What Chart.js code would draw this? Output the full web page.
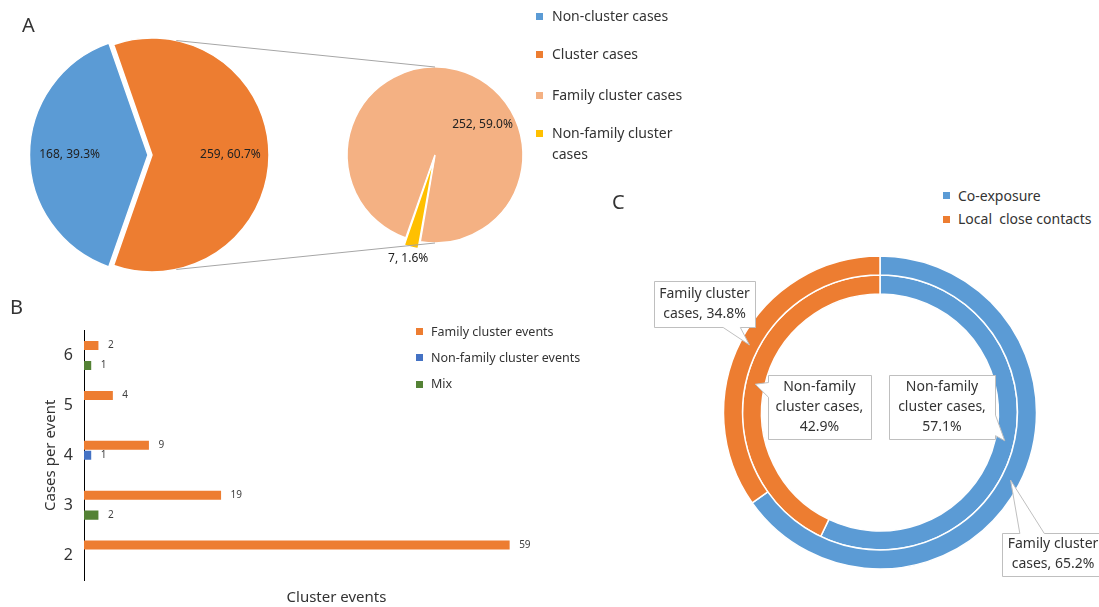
<!DOCTYPE html>
<html>
<head>
<meta charset="utf-8">
<script src="https://cdn.jsdelivr.net/npm/chart.js@4.4.0/dist/chart.umd.min.js"></script>
<style>
  html, body { margin: 0; padding: 0; background: #fff; }
  #wrap { position: relative; width: 1099px; height: 607px; overflow: hidden;
          font-family: "Noto Sans", sans-serif; color: #333; }
  #wrap canvas { position: absolute; }
  .txt { position: absolute; white-space: pre; }
</style>
</head>
<body>
<div id="wrap">
  <canvas id="cA1" width="304" height="310" style="left:0;top:0"></canvas>
  <canvas id="cA2" width="540" height="310" style="left:0;top:0"></canvas>
  <canvas id="cB" width="600" height="297" style="left:0;top:310px"></canvas>
  <canvas id="cC" width="499" height="357" style="left:600px;top:250px"></canvas>
</div>
<script>
// ---------------- data ----------------
const caseGroups = ['Non-cluster cases', 'Cluster cases'];
const caseCounts = [168, 259];
const clusterGroups = ['Family cluster cases', 'Non-family cluster cases'];
const clusterCounts = [252, 7];

const casesPerEvent = ['6', '5', '4', '3', '2'];
const eventSeries = ['Family cluster events', 'Non-family cluster events', 'Mix'];
const familyEvents = [2, 4, 9, 19, 59];
const nonFamilyEvents = [null, null, 1, null, null];
const mixEvents = [1, null, null, 2, null];

const exposureGroups = ['Co-exposure', 'Local  close contacts'];
const ringNames = ['Family cluster cases', 'Non-family cluster cases'];
const familyClusterPct = [65.2, 34.8];      // outer ring
const nonFamilyClusterPct = [57.1, 42.9];   // inner ring

// ---------------- styles ----------------
const FONT = '"Noto Sans", sans-serif';
Chart.defaults.font.family = FONT;
Chart.defaults.color = '#333';
const colA = ['#5B9BD5', '#ED7D31'];
const colA2 = ['#F4B183', '#FFC000'];
const colB = ['#ED7D31', '#4472C4', '#548235'];
const colC = ['#5B9BD5', '#ED7D31'];
const wrap = document.getElementById('wrap');
const totalCases = caseCounts.reduce((a, b) => a + b, 0);

function addText(text, left, cy, size, lh, extra) {
  const d = document.createElement('div');
  d.className = 'txt';
  d.textContent = text;
  d.style.left = left + 'px';
  d.style.top = (cy - lh / 2) + 'px';
  d.style.fontSize = size + 'px';
  d.style.lineHeight = lh + 'px';
  if (extra) Object.assign(d.style, extra);
  wrap.appendChild(d);
  return d;
}
function addLegend(labels, colors, o) {
  labels.forEach((t, k) => {
    const s = document.createElement('div');
    s.style.cssText = `position:absolute;left:${o.sx}px;top:${o.ys[k] - o.ss / 2}px;width:${o.ss}px;height:${o.ss}px;background:${colors[k]}`;
    wrap.appendChild(s);
    addText(t, o.tx, o.ys[k], o.fs, o.lh, o.extra && o.extra[k]);
  });
}

// pie labels plugin factory
function pieLabels(pos, offsets) {
  return {
    id: 'pieLabels',
    afterDatasetsDraw(chart) {
      const ctx = chart.ctx;
      const meta = chart.getDatasetMeta(0);
      const vals = chart.data.datasets[0].data;
      ctx.save();
      ctx.font = '12px ' + FONT;
      ctx.fillStyle = '#222';
      ctx.textAlign = 'center';
      ctx.textBaseline = 'middle';
      meta.data.forEach((arc, i) => {
        const p = pos[i];
        const mid = (arc.startAngle + arc.endAngle) / 2;
        const off = (offsets[i] || 0) / 4;
        const cx = arc.x + Math.cos(mid) * off, cy = arc.y + Math.sin(mid) * off;
        const ang = p.angle !== undefined ? p.angle * Math.PI / 180 : mid;
        const r = arc.outerRadius * p.r;
        ctx.fillText(vals[i] + ', ' + (vals[i] / totalCases * 100).toFixed(1) + '%',
                     cx + Math.cos(ang) * r, cy + Math.sin(ang) * r);
      });
      ctx.restore();
    }
  };
}

// ---------------- Panel A ----------------
const offA1 = [16, 0];
const chartA1 = new Chart(document.getElementById('cA1'), {
  type: 'pie',
  data: { labels: caseGroups, datasets: [{ data: caseCounts, backgroundColor: colA,
          borderColor: '#fff', borderWidth: 1.5, offset: offA1 }] },
  options: {
    responsive: false, animation: false, events: [],
    radius: 117, rotation: 199.2,
    layout: { padding: 0 },
    plugins: { legend: { display: false }, tooltip: { enabled: false } }
  },
  plugins: [pieLabels([{ r: 0.67 }, { r: 0.67 }], offA1)]
});

const offA2 = [0, 16];
const connectorPlugin = {
  id: 'connectors',
  afterDraw(chart) {
    const big = chartA1.getDatasetMeta(0).data[1];
    const small = chart.getDatasetMeta(0).data[0];
    const ctx = chart.ctx;
    ctx.save();
    ctx.strokeStyle = '#A6A6A6';
    ctx.lineWidth = 1;
    [-1, 1].forEach(s => {
      const a = s * 78 * Math.PI / 180;
      ctx.beginPath();
      ctx.moveTo(big.x + Math.cos(a) * big.outerRadius, big.y + Math.sin(a) * big.outerRadius);
      ctx.lineTo(small.x, small.y + s * small.outerRadius);
      ctx.stroke();
    });
    ctx.restore();
  }
};
new Chart(document.getElementById('cA2'), {
  type: 'pie',
  data: { labels: clusterGroups, datasets: [{ data: clusterCounts, backgroundColor: colA2,
          borderColor: '#fff', borderWidth: 1.5, offset: offA2 }] },
  options: {
    responsive: false, animation: false, events: [],
    radius: 88, rotation: 199.4,
    layout: { padding: { left: 330, right: 0, top: 0, bottom: 0 } },
    plugins: { legend: { display: false }, tooltip: { enabled: false } }
  },
  plugins: [connectorPlugin, pieLabels([{ r: 0.64, angle: -32.5 }, { r: 1.17 }], offA2)]
});

addText('A', 22, 25, 20, 20);
addLegend(caseGroups.concat(clusterGroups), colA.concat(colA2), {
  sx: 536, ss: 7, tx: 552, fs: 14, lh: 20.5, ys: [16.5, 54.3, 95, 133.7],
  extra: [null, null, null, { whiteSpace: 'normal', width: '140px', top: (133.7 - 10.25) + 'px' }]
});

// ---------------- Panel B ----------------
const barValuePlugin = {
  id: 'barValues',
  afterDatasetsDraw(chart) {
    const ctx = chart.ctx;
    ctx.save();
    ctx.font = '10px ' + FONT;
    ctx.fillStyle = '#404040';
    ctx.textBaseline = 'middle';
    ctx.textAlign = 'left';
    chart.data.datasets.forEach((ds, d) => {
      chart.getDatasetMeta(d).data.forEach((bar, i) => {
        const v = ds.data[i];
        if (v == null) return;
        ctx.fillText(String(v), bar.x + 9.5, bar.y);
      });
    });
    ctx.restore();
  }
};
const seriesB = [familyEvents, nonFamilyEvents, mixEvents];
new Chart(document.getElementById('cB'), {
  type: 'bar',
  data: {
    labels: casesPerEvent,
    datasets: seriesB.map((d, k) => ({
      label: eventSeries[k], data: d, backgroundColor: colB[k], borderWidth: 0,
      categoryPercentage: 0.6, barPercentage: 0.91
    }))
  },
  options: {
    indexAxis: 'y', responsive: false, animation: false, events: [],
    layout: { padding: { top: 16.5, right: 11, left: 0, bottom: 0 } },
    plugins: { legend: { display: false }, tooltip: { enabled: false } },
    scales: {
      x: {
        min: 0, max: 70,
        grid: { display: false, drawTicks: false }, border: { display: false },
        ticks: { display: false },
        title: { display: true, text: 'Cluster events', font: { size: 15 }, color: '#333',
                 padding: { top: 0, bottom: 0 } },
        afterFit(s) { s.height = 27; }
      },
      y: {
        grid: { display: false, drawTicks: false },
        border: { display: true, color: '#000', width: 1 },
        ticks: { font: { size: 16 }, color: '#333', padding: 11 },
        title: { display: true, text: 'Cases per event', font: { size: 15 }, color: '#333',
                 padding: { top: 42, bottom: 0 } },
        afterFit(s) { s.width = 84; }
      }
    }
  },
  plugins: [barValuePlugin]
});

addText('B', 10, 306.5, 20, 20);
addLegend(eventSeries, colB, { sx: 416, ss: 7, tx: 431, fs: 12.5, lh: 18, ys: [331.7, 357.7, 384] });

// ---------------- Panel C ----------------
const callouts = [
  { ds: 0, i: 1, dx: -175.5, dy: -108.5, w: 101, h: 46, edge: 'bottom', f: [0.68, 0.85] },
  { ds: 1, i: 1, dx: -60.6, dy: -5.5, w: 103, h: 64, edge: 'left', f: [0.11, 0.34] },
  { ds: 1, i: 0, dx: 62, dy: -5.5, w: 106, h: 64, edge: 'right', f: [0.62, 0.94] },
  { ds: 0, i: 0, dx: 173, dy: 141.5, w: 102, h: 43, edge: 'top', f: [0.17, 0.41] }
];
function wrapWords(ctx, text, maxW) {
  const words = text.split(' ');
  const lines = [];
  let cur = '';
  words.forEach(w => {
    const t = cur ? cur + ' ' + w : w;
    if (cur && ctx.measureText(t).width > maxW) { lines.push(cur); cur = w; }
    else cur = t;
  });
  if (cur) lines.push(cur);
  return lines;
}
const calloutPlugin = {
  id: 'callouts',
  afterDraw(chart) {
    const ctx = chart.ctx;
    ctx.save();
    ctx.font = '14px ' + FONT;
    callouts.forEach(c => {
      const arc = chart.getDatasetMeta(c.ds).data[c.i];
      const mid = (arc.startAngle + arc.endAngle) / 2;
      const rr = (arc.innerRadius + arc.outerRadius) / 2;
      const tip = { x: arc.x + Math.cos(mid) * rr, y: arc.y + Math.sin(mid) * rr };
      const cx = arc.x + c.dx, cy = arc.y + c.dy;
      const L = Math.round(cx - c.w / 2) + 0.5, R = Math.round(cx + c.w / 2) + 0.5;
      const T = Math.round(cy - c.h / 2) + 0.5, B = Math.round(cy + c.h / 2) + 0.5;
      const hx = f => L + (R - L) * f, vy = f => T + (B - T) * f;
      ctx.beginPath();
      ctx.moveTo(L, T);
      if (c.edge === 'top') { ctx.lineTo(hx(c.f[0]), T); ctx.lineTo(tip.x, tip.y); ctx.lineTo(hx(c.f[1]), T); }
      ctx.lineTo(R, T);
      if (c.edge === 'right') { ctx.lineTo(R, vy(c.f[0])); ctx.lineTo(tip.x, tip.y); ctx.lineTo(R, vy(c.f[1])); }
      ctx.lineTo(R, B);
      if (c.edge === 'bottom') { ctx.lineTo(hx(c.f[1]), B); ctx.lineTo(tip.x, tip.y); ctx.lineTo(hx(c.f[0]), B); }
      ctx.lineTo(L, B);
      if (c.edge === 'left') { ctx.lineTo(L, vy(c.f[1])); ctx.lineTo(tip.x, tip.y); ctx.lineTo(L, vy(c.f[0])); }
      ctx.closePath();
      ctx.fillStyle = '#fff';
      ctx.fill();
      ctx.strokeStyle = '#BFBFBF';
      ctx.lineWidth = 1;
      ctx.stroke();
      const v = chart.data.datasets[c.ds].data[c.i];
      const label = chart.data.datasets[c.ds].label + ', ' + v.toFixed(1) + '%';
      const lines = wrapWords(ctx, label, c.w - 6);
      ctx.fillStyle = '#333';
      ctx.textAlign = 'center';
      ctx.textBaseline = 'middle';
      const lh = 20;
      lines.forEach((ln, k) => ctx.fillText(ln, cx, cy + (k - (lines.length - 1) / 2) * lh));
    });
    ctx.restore();
  }
};
new Chart(document.getElementById('cC'), {
  type: 'doughnut',
  data: {
    labels: exposureGroups,
    datasets: [
      { label: ringNames[0], data: familyClusterPct, backgroundColor: colC, borderColor: '#fff', borderWidth: 1.5 },
      { label: ringNames[1], data: nonFamilyClusterPct, backgroundColor: colC, borderColor: '#fff', borderWidth: 1.5 }
    ]
  },
  options: {
    responsive: false, animation: false, events: [],
    radius: 156.5, cutout: '75.7%', rotation: 0,
    layout: { padding: { left: 120, right: 59, top: 2.5, bottom: 34.5 } },
    plugins: { legend: { display: false }, tooltip: { enabled: false } }
  },
  plugins: [calloutPlugin]
});

addText('C', 612, 201.7, 20, 20);
addLegend(exposureGroups, colC, { sx: 943, ss: 7, tx: 958, fs: 14, lh: 20, ys: [195.7, 219.3] });
</script>
</body>
</html>
